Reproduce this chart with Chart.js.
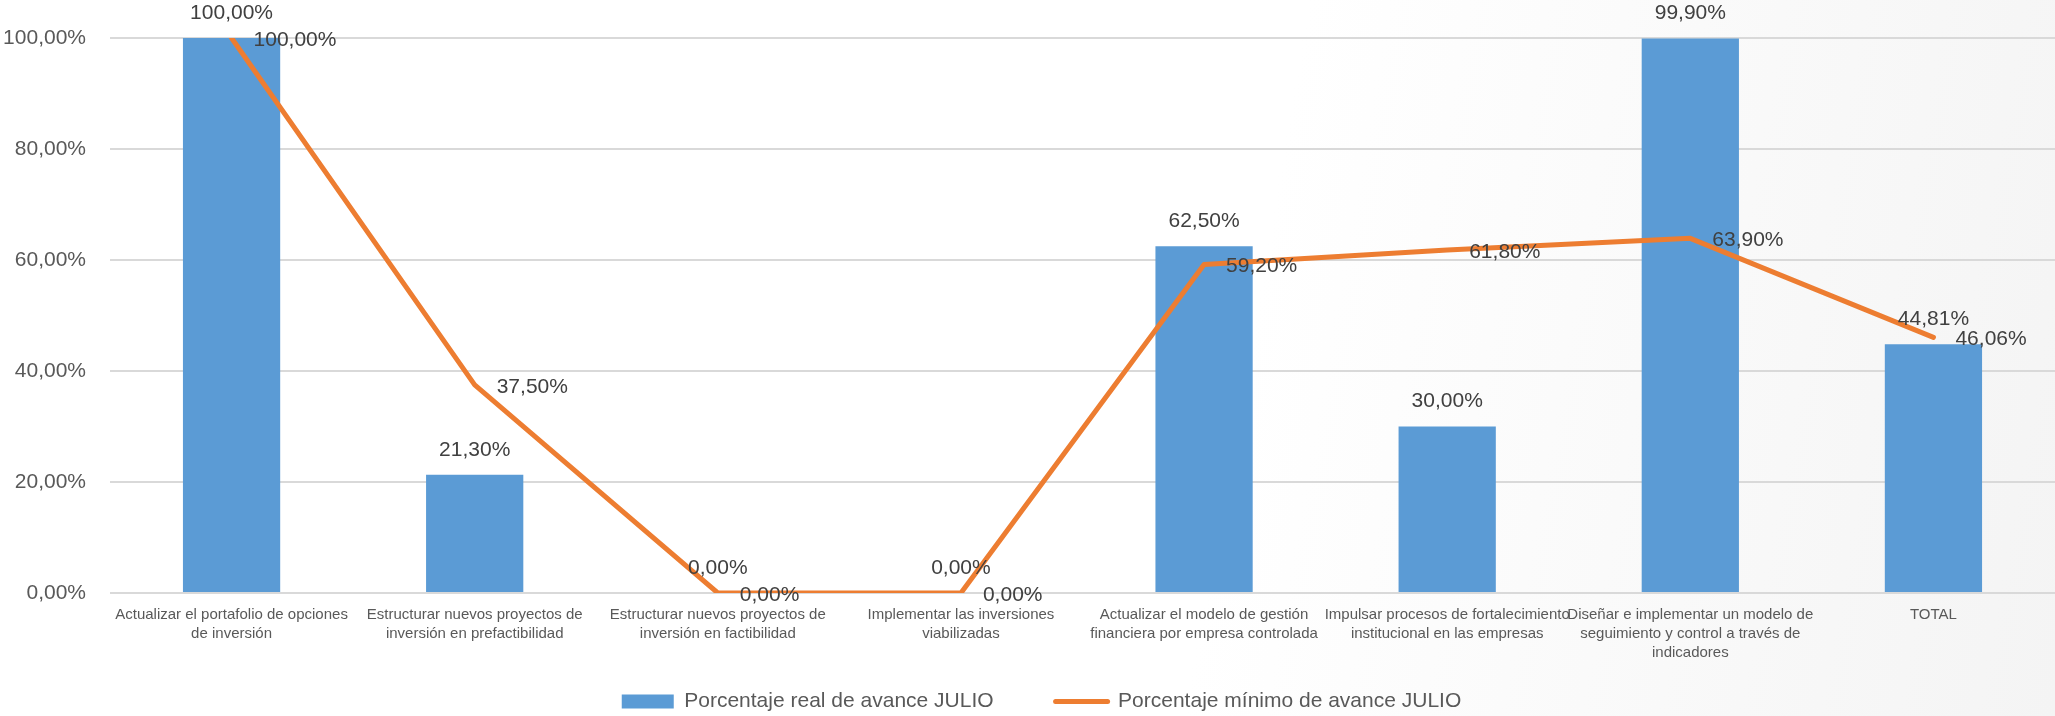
<!DOCTYPE html>
<html>
<head>
<meta charset="utf-8">
<script src="https://cdn.jsdelivr.net/npm/chart.js@4.4.1/dist/chart.umd.min.js"></script>
<style>
  html, body { margin: 0; padding: 0; overflow: hidden; }
  body { width: 2055px; height: 716px; background: linear-gradient(100deg, #ffffff 60%, #f4f4f4 100%); }
  #avanceChart { display: block; width: 2055px; height: 716px; }
</style>
</head>
<body>
<canvas id="avanceChart" width="2055" height="716"></canvas>
<script>
const categories = [
    ["Actualizar el portafolio de opciones", "de inversión"],
    ["Estructurar nuevos proyectos de", "inversión en prefactibilidad"],
    ["Estructurar nuevos proyectos de", "inversión en factibilidad"],
    ["Implementar las inversiones", "viabilizadas"],
    ["Actualizar el modelo de gestión", "financiera por empresa controlada"],
    ["Impulsar procesos de fortalecimiento", "institucional en las empresas"],
    ["Diseñar e implementar un modelo de", "seguimiento y control a través de", "indicadores"],
    "TOTAL"
];
const realAvance = [100, 21.3, 0, 0, 62.5, 30, 99.9, 44.81];
const minimoAvance = [100, 37.5, 0, 0, 59.2, 61.8, 63.9, 46.06];
const yTicks = [0, 20, 40, 60, 80, 100];
const seriesNames = ["Porcentaje real de avance JULIO", "Porcentaje mínimo de avance JULIO"];

const BLUE = "#5B9BD5";
const ORANGE = "#ED7D31";
const FONT = "'Liberation Sans', Arial, sans-serif";

function pct(v) {
    return v.toFixed(2).replace(".", ",") + "%";
}

// draws the value labels like Excel does (above bars, right of line points)
const valueLabels = {
    id: "valueLabels",
    afterDatasetsDraw(chart) {
        const ctx = chart.ctx;
        ctx.save();
        ctx.font = "21px " + FONT;
        ctx.fillStyle = "#404040";
        ctx.textBaseline = "middle";
        chart.data.datasets.forEach((ds, i) => {
            const meta = chart.getDatasetMeta(i);
            meta.data.forEach((el, j) => {
                const txt = pct(ds.data[j]);
                if (ds.type === "bar") {
                    ctx.textAlign = "center";
                    ctx.fillText(txt, el.x, el.y - 25);
                } else {
                    ctx.textAlign = "left";
                    ctx.fillText(txt, el.x + 22, el.y + 2);
                }
            });
        });
        ctx.restore();
    }
};

// nudge legend down and right
const legendShift = {
    id: "legendShift",
    afterUpdate(chart) {
        if (chart.legend) {
            chart.legend.top += 6;
            chart.legend.bottom += 6;
            chart.legend.left += 14;
            chart.legend.right += 14;
        }
    }
};

const ctx = document.getElementById("avanceChart").getContext("2d");
const avanceChart = new Chart(ctx, {
    data: {
        labels: categories,
        datasets: [
            {
                type: "bar",
                label: seriesNames[0],
                data: realAvance,
                backgroundColor: BLUE,
                borderWidth: 0,
                categoryPercentage: 0.8,
                barPercentage: 0.5,
                order: 2
            },
            {
                type: "line",
                label: seriesNames[1],
                data: minimoAvance,
                borderColor: ORANGE,
                backgroundColor: ORANGE,
                borderWidth: 5,
                borderCapStyle: "round",
                borderJoinStyle: "round",
                pointRadius: 0,
                tension: 0,
                fill: false,
                order: 1
            }
        ]
    },
    options: {
        responsive: false,
        maintainAspectRatio: false,
        animation: false,
        devicePixelRatio: 1,
        layout: { padding: { top: 38, left: 0, right: 0, bottom: 0 } },
        plugins: {
            tooltip: { enabled: false },
            legend: {
                position: "bottom",
                labels: {
                    usePointStyle: true,
                    pointStyleWidth: 52,
                    boxHeight: 14,
                    padding: 20,
                    color: "#595959",
                    font: { size: 21, family: FONT },
                    generateLabels: function () {
                        return [
                            // em spaces widen the gap between the two entries
                            { text: seriesNames[0] + "\u2003\u2003", fillStyle: BLUE, strokeStyle: BLUE, lineWidth: 0, pointStyle: "rect", datasetIndex: 0, fontColor: "#595959" },
                            { text: seriesNames[1], fillStyle: ORANGE, strokeStyle: ORANGE, lineWidth: 5, lineCap: "round", pointStyle: "line", datasetIndex: 1, fontColor: "#595959" }
                        ];
                    }
                }
            }
        },
        scales: {
            x: {
                offset: true,
                grid: { display: false, drawTicks: false },
                border: { display: false },
                ticks: {
                    color: "#595959",
                    font: { size: 15, family: FONT, lineHeight: 1.27 },
                    padding: 12,
                    maxRotation: 0,
                    minRotation: 0,
                    autoSkip: false
                },
                afterFit: function (scale) { scale.height = 72; }
            },
            y: {
                min: 0,
                max: 100,
                afterBuildTicks: function (scale) {
                    scale.ticks = yTicks.map(v => ({ value: v }));
                },
                grid: { color: "#D9D9D9", lineWidth: 2, drawTicks: false },
                border: { display: false },
                ticks: {
                    color: "#595959",
                    font: { size: 21, family: FONT },
                    padding: 24,
                    callback: v => pct(v)
                },
                afterFit: function (scale) { scale.width = 110; }
            }
        }
    },
    plugins: [valueLabels, legendShift]
});
</script>
</body>
</html>
